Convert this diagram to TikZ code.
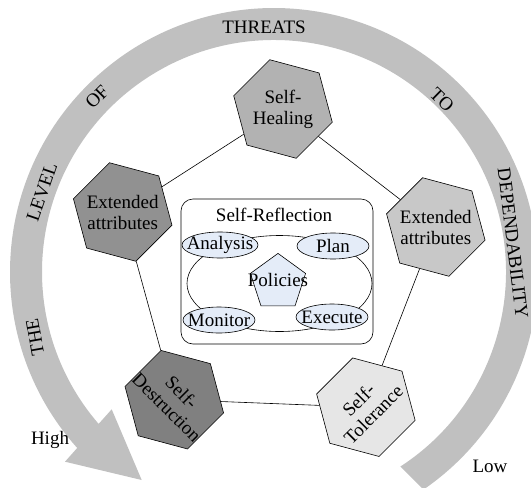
\documentclass[tikz,border=0pt]{standalone}
\usepackage{fontspec}
\setmainfont{Liberation Serif}
\usetikzlibrary{shapes.geometric,calc}
\definecolor{ringgray}{RGB}{192,192,192}
\definecolor{hA}{RGB}{178,178,178}
\definecolor{hB}{RGB}{145,145,145}
\definecolor{hC}{RGB}{200,200,200}
\definecolor{hD}{RGB}{128,128,128}
\definecolor{hE}{RGB}{230,230,230}
\definecolor{lblue}{RGB}{228,236,248}
\begin{document}
\begin{tikzpicture}[x=1pt,y=1pt,
  lab/.style={inner sep=0pt, font=\fontsize{19}{21}\selectfont, align=center},
  hexa/.style={regular polygon, regular polygon sides=6, minimum size=102pt, inner sep=0pt, draw=black, line width=0.6pt, shape border rotate=-15},
  mape/.style={ellipse, draw=black, fill=lblue, inner sep=0pt, minimum height=26pt, line width=0.6pt, font=\fontsize{19}{21}\selectfont},
  link/.style={draw=black, line width=0.6pt}]
\useasboundingbox (0,0) rectangle (531,-488);
\coordinate (C) at (274,-272);
\coordinate (ib) at (111.7,-409.3);
\coordinate (tip) at (141.7,-480);
\coordinate (ob) at (65,-461.7);
% ring arrow
\fill[ringgray] ($(C)+(221.8:264pt)$) arc[start angle=221.8, end angle=-55.5, radius=264pt]
  -- ($(C)+(-57:232pt)$) arc[start angle=-57, end angle=220.9, radius=232pt]
  -- (ib) -- (tip) -- (ob) -- cycle;
% hexagons
\node[hexa, fill=hA] (heal) at (283,-109) {};
\node[hexa, fill=hB] (extL) at (122.7,-212) {};
\node[hexa, fill=hC] (extR) at (435.8,-227) {};
\node[hexa, fill=hD] (dest) at (174.3,-399.7) {};
\node[hexa, fill=hE] (tol) at (365.9,-407.2) {};
\draw[link] (heal) -- (extL);
\draw[link] (heal) -- (extR);
\draw[link] (extL) -- (dest);
\draw[link] (extR) -- (tol);
\draw[link] (dest) -- (tol);
% self-reflection box
\node[draw=black, fill=white, rounded corners=12pt, minimum width=192pt, minimum height=145pt, inner sep=0pt, line width=0.6pt] (box) at (277,-271.5) {};
\node[lab] (title) at (274,-215) {Self-Reflection};
\node[ellipse, draw=black, minimum width=185pt, minimum height=96pt, inner sep=0pt, line width=0.6pt] (loop) at (279.5,-283.5) {};
\node[mape, minimum width=76pt] (ana) at (220,-245) {\makebox[0pt]{Analysis}};
\node[mape, minimum width=72pt] (plan) at (333,-246) {\makebox[0pt]{Plan}};
\node[mape, minimum width=72pt] (mon) at (219,-320) {\makebox[0pt]{Monitor}};
\node[mape, minimum width=72pt] (exe) at (332,-317) {\makebox[0pt]{Execute}};
\node[regular polygon, regular polygon sides=5, minimum size=58pt, inner sep=0pt, draw=black, fill=lblue, line width=0.6pt] (pol) at (278,-282.4) {};
\node[lab] (polt) at (278,-280) {Policies};
% hexagon texts
\node[lab] (healt) at (heal) {Self-\\Healing};
\node[lab] (extLt) at (extL) {Extended\\attributes};
\node[lab] (extRt) at (extR) {Extended\\attributes};
\node[lab, rotate=-45] (destt) at (dest) {Self-\\Destruction};
\node[lab, rotate=45] (tolt) at (tol) {Self-\\Tolerance};
% ring words
\node[lab] (w1) at (264,-27) {THREATS};
\node[lab, rotate=45.3] (w2) at (97,-97) {OF};
\node[lab, rotate=-44.3] (w3) at (442,-100) {TO};
\node[lab, rotate=71] (w4) at (42,-192) {LEVEL};
\node[lab, rotate=100] (w5) at (35,-337) {THE};
\node[lab, rotate=-83] (w6) at (513,-243) {DEPENDABILITY};
\node[lab] (hi) at (50,-440) {High};
\node[lab] (lo) at (490,-466) {Low};
\end{tikzpicture}
\end{document}
